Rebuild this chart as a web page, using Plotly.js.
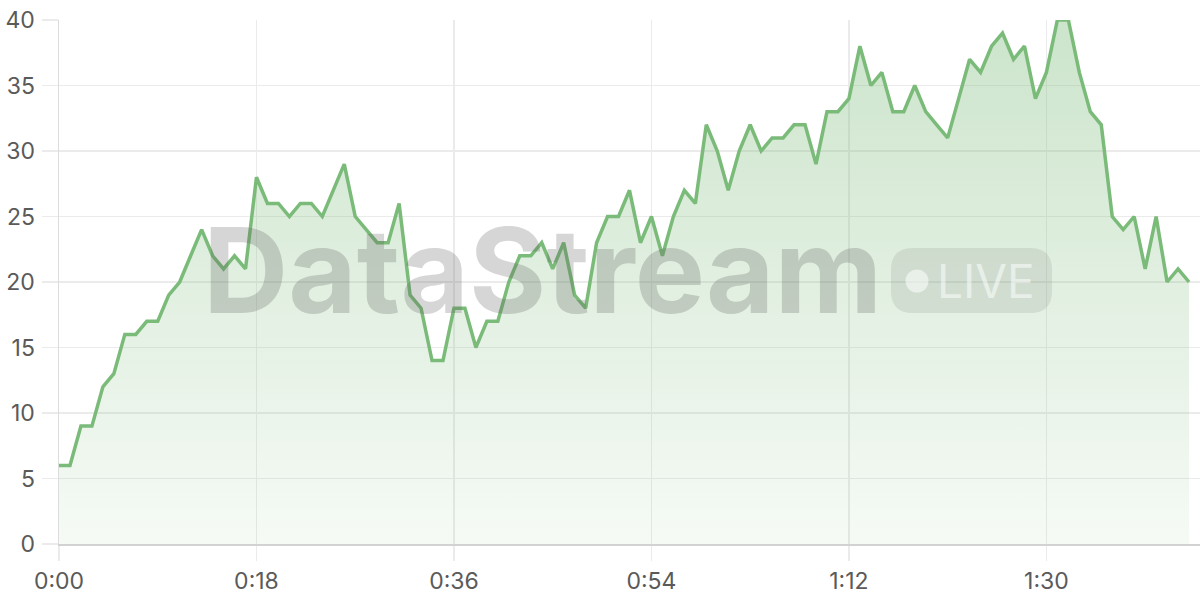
<!DOCTYPE html>
<html>
<head>
<meta charset="utf-8">
<script src="https://cdn.plot.ly/plotly-3.0.1.min.js"></script>
<style>
html,body{margin:0;padding:0;background:#fff;}
#chart{width:1200px;height:600px;}
</style>
</head>
<body>
<div id="chart"></div>
<script>
// seconds elapsed
const seconds = [0,1,2,3,4,5,6,7,8,9,10,11,12,13,14,15,16,17,18,19,20,21,22,23,24,25,26,27,28,29,30,31,32,33,34,35,36,37,38,39,40,41,42,43,44,45,46,47,48,49,50,51,52,53,54,55,56,57,58,59,60,61,62,63,64,65,66,67,68,69,70,71,72,73,74,75,76,77,78,79,80,81,82,83,84,85,86,87,88,89,90,91,92,93,94,95,96,97,98,99,100,101,102,103];
const values = [6,6,9,9,12,13,16,16,17,17,19,20,22,24,22,21,22,21,28,26,26,25,26,26,25,27,29,25,24,23,23,26,19,18,14,14,18,18,15,17,17,20,22,22,23,21,23,19,18,23,25,25,27,23,25,22,25,27,26,32,30,27,30,32,30,31,31,32,32,29,33,33,34,38,35,36,33,33,35,33,32,31,34,37,36,38,39,37,38,34,36,40,40,36,33,32,25,24,25,21,25,20,21,20];
const xTickVals = [0,18,36,54,72,90];
const xTickText = ['0:00','0:18','0:36','0:54','1:12','1:30'];
const yTickVals = [0,5,10,15,20,25,30,35,40];

const trace = {
  x: seconds,
  y: values,
  type: 'scatter',
  mode: 'lines',
  line: {color: '#7bbb79', width: 3.5, shape: 'linear'},
  fill: 'tozeroy',
  fillgradient: {
    type: 'vertical',
    start: 0,
    stop: 40,
    colorscale: [[0, 'rgba(121,185,119,0.07)'], [1, 'rgba(121,185,119,0.38)']]
  },
  hoverinfo: 'skip'
};

const gridColor = '#ebebeb';
const labelFont = {family: 'Inter, "Open Sans", sans-serif', size: 23, color: '#5a5a5a'};

// rounded rectangle path (pixels, relative to anchor)
function roundRect(w, h, r) {
  const x0 = -w/2, x1 = w/2, y0 = -h/2, y1 = h/2;
  return `M ${x0+r} ${y0} L ${x1-r} ${y0} Q ${x1} ${y0} ${x1} ${y0+r} L ${x1} ${y1-r} Q ${x1} ${y1} ${x1-r} ${y1} L ${x0+r} ${y1} Q ${x0} ${y1} ${x0} ${y1-r} L ${x0} ${y0+r} Q ${x0} ${y0} ${x0+r} ${y0} Z`;
}

const layout = {
  width: 1200,
  height: 600,
  margin: {l: 59, r: 0, t: 20, b: 56},
  paper_bgcolor: '#ffffff',
  plot_bgcolor: '#ffffff',
  showlegend: false,
  xaxis: {
    range: [0, 104],
    tickvals: xTickVals,
    ticktext: xTickText,
    showgrid: true,
    gridcolor: gridColor,
    gridwidth: 1.5,
    zeroline: false,
    showline: true,
    linecolor: '#d2d2d2',
    linewidth: 2,
    ticks: 'outside',
    ticklen: 15,
    tickcolor: gridColor,
    tickwidth: 1.5,
    tickfont: labelFont,
    ticklabelstandoff: 0,
    fixedrange: true
  },
  yaxis: {
    range: [0, 40],
    tickvals: yTickVals,
    showgrid: true,
    gridcolor: gridColor,
    gridwidth: 1.5,
    zeroline: false,
    showline: true,
    linecolor: '#dcdcdc',
    linewidth: 1.5,
    ticks: 'outside',
    ticklen: 16,
    tickcolor: gridColor,
    tickwidth: 1.5,
    tickfont: labelFont,
    ticklabelstandoff: 2,
    fixedrange: true
  },
  annotations: [
    {
      text: '<b>DataStream</b>',
      xref: 'paper', yref: 'paper',
      x: (542 - 59) / 1141, y: (544 - 270) / 524,
      xanchor: 'center', yanchor: 'middle',
      showarrow: false,
      font: {family: 'Inter, "Liberation Sans", sans-serif', size: 118, color: 'rgba(90,90,90,0.25)'}
    },
    {
      text: 'LIVE',
      xref: 'paper', yref: 'paper',
      x: (985.5 - 59) / 1141, y: (544 - 281) / 524,
      xanchor: 'center', yanchor: 'middle',
      showarrow: false,
      font: {family: 'Inter, "Liberation Sans", sans-serif', size: 46, color: 'rgba(255,255,255,0.55)'}
    }
  ],
  shapes: [
    {
      type: 'path',
      xref: 'paper', yref: 'paper',
      xsizemode: 'pixel', ysizemode: 'pixel',
      xanchor: (971.5 - 59) / 1141, yanchor: (544 - 280.5) / 524,
      path: roundRect(161, 65, 22),
      fillcolor: 'rgba(90,90,90,0.13)',
      line: {width: 0},
      layer: 'above'
    },
    {
      type: 'circle',
      xref: 'paper', yref: 'paper',
      xsizemode: 'pixel', ysizemode: 'pixel',
      xanchor: (917 - 59) / 1141, yanchor: (544 - 281) / 524,
      x0: -11.5, x1: 11.5, y0: -11.5, y1: 11.5,
      fillcolor: 'rgba(255,255,255,0.55)',
      line: {width: 0},
      layer: 'above'
    }
  ]
};

Plotly.newPlot('chart', [trace], layout, {displayModeBar: false, staticPlot: true});
</script>
</body>
</html>
